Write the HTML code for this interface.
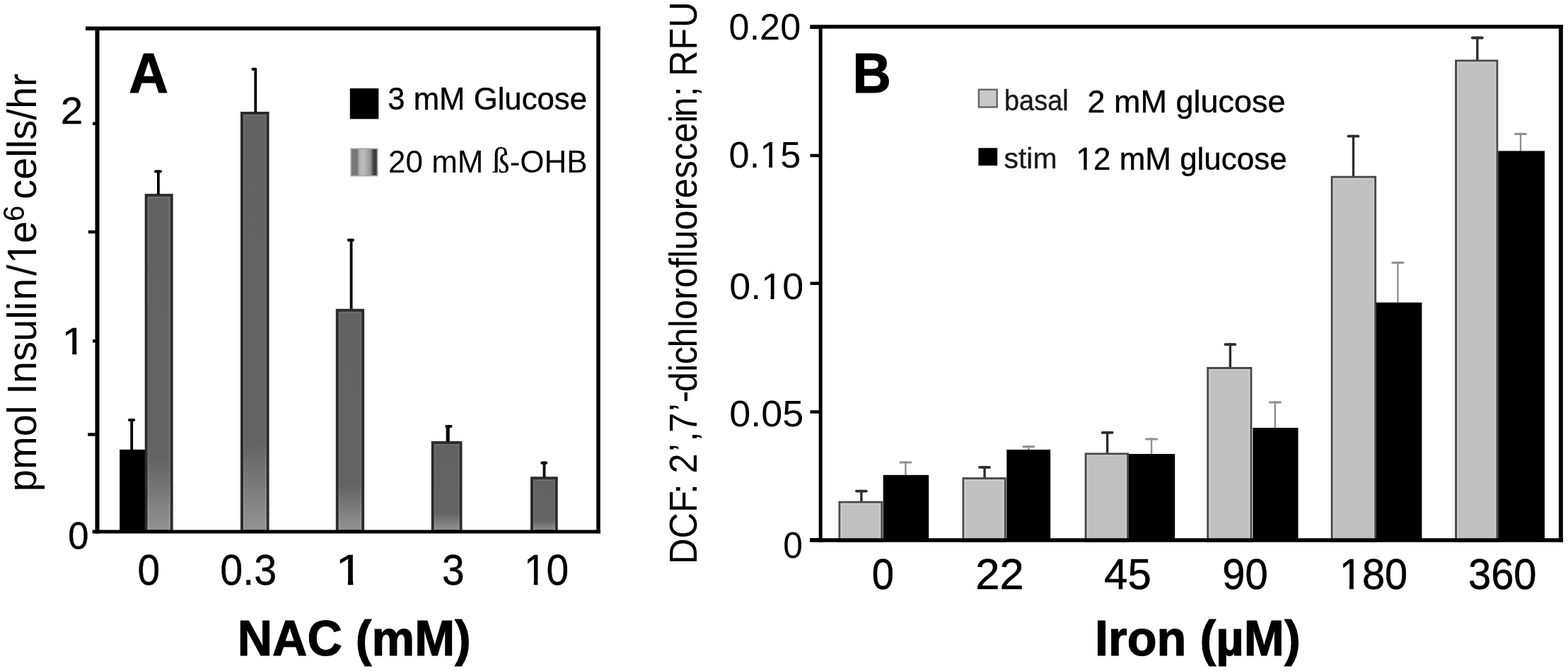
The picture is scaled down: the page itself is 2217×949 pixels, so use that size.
<!DOCTYPE html><html><head><meta charset="utf-8"><style>html,body{margin:0;padding:0;background:#fff;overflow:hidden}svg{display:block}text{font-family:"Liberation Sans", Arial, sans-serif}</style></head><body>
<div id="w"><svg width="2217" height="949" viewBox="0 0 2217 949">
<defs>
<linearGradient id="stripe" x1="0" y1="0" x2="1" y2="0">
<stop offset="0" stop-color="#7c7c7c"/><stop offset="0.22" stop-color="#747474"/><stop offset="0.33" stop-color="#b2b2b2"/><stop offset="0.45" stop-color="#bdbdbd"/><stop offset="0.6" stop-color="#ababab"/><stop offset="0.74" stop-color="#929292"/><stop offset="0.85" stop-color="#424242"/><stop offset="0.94" stop-color="#3a3a3a"/><stop offset="1" stop-color="#6a6a6a"/></linearGradient>
<linearGradient id="gbar" x1="0" y1="0" x2="0" y2="1"><stop offset="0" stop-color="#626262"/><stop offset="0.79" stop-color="#636363"/><stop offset="1" stop-color="#939393"/></linearGradient>
<linearGradient id="gstr" x1="0" y1="0" x2="0" y2="1"><stop offset="0" stop-color="#6e6e6e"/><stop offset="0.79" stop-color="#6e6e6e"/><stop offset="1" stop-color="#a2a2a2"/></linearGradient>
</defs>
<rect width="2217" height="949" fill="#fff"/>
<rect x="169.2" y="635.8" width="35.80000000000001" height="115.70000000000005" fill="#000"/>
<line x1="186.2" y1="594" x2="186.2" y2="636" stroke="#000" stroke-width="3.8" stroke-linecap="butt"/>
<line x1="183.0" y1="594" x2="189.1" y2="594" stroke="#000" stroke-width="4.2" stroke-linecap="round"/>
<rect x="206.7" y="276.1" width="36.0" height="475.4" fill="url(#gbar)" stroke="#2c2c2c" stroke-width="4"/>
<rect x="209.7" y="279.1" width="30.0" height="472.4" fill="none" stroke="url(#gstr)" stroke-width="2"/>
<line x1="223.9" y1="242.5" x2="223.9" y2="275" stroke="#000" stroke-width="3.8" stroke-linecap="butt"/>
<line x1="220.1" y1="242.5" x2="226.9" y2="242.5" stroke="#000" stroke-width="4.2" stroke-linecap="round"/>
<rect x="342" y="160" width="36.60000000000002" height="591.5" fill="url(#gbar)" stroke="#2c2c2c" stroke-width="4"/>
<rect x="345" y="163" width="30.600000000000023" height="588.5" fill="none" stroke="url(#gstr)" stroke-width="2"/>
<line x1="361.3" y1="97.8" x2="361.3" y2="159" stroke="#000" stroke-width="3.8" stroke-linecap="butt"/>
<line x1="357.6" y1="97.8" x2="361.09999999999997" y2="97.8" stroke="#000" stroke-width="4.2" stroke-linecap="round"/>
<rect x="476.8" y="438.8" width="36.30000000000001" height="312.7" fill="url(#gbar)" stroke="#2c2c2c" stroke-width="4"/>
<rect x="479.8" y="441.8" width="30.30000000000001" height="309.7" fill="none" stroke="url(#gstr)" stroke-width="2"/>
<line x1="496.6" y1="339.6" x2="496.6" y2="437" stroke="#000" stroke-width="3.8" stroke-linecap="butt"/>
<line x1="493.0" y1="339.6" x2="498.9" y2="339.6" stroke="#000" stroke-width="4.2" stroke-linecap="round"/>
<rect x="611.8" y="626" width="39.700000000000045" height="125.5" fill="url(#gbar)" stroke="#2c2c2c" stroke-width="4"/>
<rect x="614.8" y="629" width="33.700000000000045" height="122.5" fill="none" stroke="url(#gstr)" stroke-width="2"/>
<line x1="633.2" y1="603" x2="633.2" y2="625" stroke="#000" stroke-width="5" stroke-linecap="butt"/>
<line x1="631.3000000000001" y1="603" x2="637.4" y2="603" stroke="#000" stroke-width="4.2" stroke-linecap="round"/>
<rect x="752" y="676.2" width="34.700000000000045" height="75.29999999999995" fill="url(#gbar)" stroke="#2c2c2c" stroke-width="4"/>
<rect x="755" y="679.2" width="28.700000000000045" height="72.29999999999995" fill="none" stroke="url(#gstr)" stroke-width="2"/>
<line x1="769.5" y1="654.7" x2="769.5" y2="675" stroke="#000" stroke-width="3.8" stroke-linecap="butt"/>
<line x1="766.4" y1="654.7" x2="772.1" y2="654.7" stroke="#000" stroke-width="4.2" stroke-linecap="round"/>
<line x1="121" y1="40.3" x2="848.6" y2="40.3" stroke="#000" stroke-width="5.5" stroke-linecap="butt"/>
<line x1="137.5" y1="40" x2="137.5" y2="754.5" stroke="#000" stroke-width="6" stroke-linecap="butt"/>
<line x1="130.6" y1="752" x2="848.9" y2="752" stroke="#000" stroke-width="5" stroke-linecap="butt"/>
<line x1="846" y1="37.5" x2="846" y2="754.3" stroke="#000" stroke-width="5.5" stroke-linecap="butt"/>
<line x1="131" y1="174.8" x2="137" y2="174.8" stroke="#000" stroke-width="4.5" stroke-linecap="butt"/>
<line x1="124.8" y1="328" x2="137" y2="328" stroke="#000" stroke-width="4.5" stroke-linecap="butt"/>
<line x1="131" y1="482.3" x2="137" y2="482.3" stroke="#000" stroke-width="4.5" stroke-linecap="butt"/>
<line x1="124.3" y1="614.5" x2="137" y2="614.5" stroke="#000" stroke-width="4.5" stroke-linecap="butt"/>
<g transform="translate(85.68,174.50) scale(1.0589,1)"><text font-size="53.5" fill="#000" stroke="#000" stroke-width="0.4" stroke-linejoin="round">2</text></g>
<g transform="translate(87.51,500.60) scale(1.1253,1)"><text font-size="53.5" fill="#000" stroke="#000" stroke-width="0.4" stroke-linejoin="round">1</text><rect x="2.01" y="-5.37" width="11.06" height="7.17" fill="#fff"/><rect x="18.50" y="-5.37" width="10.52" height="7.17" fill="#fff"/></g>
<g transform="translate(96.30,776.20) scale(0.9816,1)"><text font-size="53.5" fill="#000" stroke="#000" stroke-width="0.4" stroke-linejoin="round">0</text></g>
<g transform="translate(194.51,826.70) scale(0.9258,1)"><text font-size="61.5" fill="#000" stroke="#000" stroke-width="0.4" stroke-linejoin="round">0</text></g>
<g transform="translate(311.28,826.70) scale(0.9362,1)"><text font-size="61.5" fill="#000" stroke="#000" stroke-width="0.4" stroke-linejoin="round">0.3</text></g>
<g transform="translate(474.12,826.70) scale(1.1831,1)"><text font-size="61.5" fill="#000" stroke="#000" stroke-width="0.4" stroke-linejoin="round">1</text><rect x="2.49" y="-6.00" width="12.56" height="7.80" fill="#fff"/><rect x="21.23" y="-6.00" width="11.95" height="7.80" fill="#fff"/></g>
<g transform="translate(624.91,826.70) scale(0.9253,1)"><text font-size="61.5" fill="#000" stroke="#000" stroke-width="0.4" stroke-linejoin="round">3</text></g>
<g transform="translate(740.77,826.70) scale(0.9263,1)"><text font-size="61.5" fill="#000" stroke="#000" stroke-width="0.4" stroke-linejoin="round">10</text><rect x="2.49" y="-6.00" width="12.56" height="7.80" fill="#fff"/><rect x="21.23" y="-6.00" width="11.95" height="7.80" fill="#fff"/></g>
<g transform="translate(335.75,927.40) scale(0.9759,1)"><text font-size="70" font-weight="bold" fill="#000" stroke="#000" stroke-width="1.2" stroke-linejoin="round">NAC (mM)</text></g>
<g transform="translate(182.15,130.50) scale(0.9635,1)"><text font-size="80" font-weight="bold" fill="#000" stroke="#000" stroke-width="1.2" stroke-linejoin="round">A</text></g>
<rect x="494.8" y="125" width="40.5" height="43.3" fill="#000"/>
<rect x="496.2" y="210.3" width="37.5" height="38.4" fill="url(#stripe)" stroke="#a4a4a4" stroke-width="1.6"/>
<g transform="translate(548.25,155.30) scale(0.9934,1)"><text font-size="44" fill="#000" stroke="#000" stroke-width="0.4" stroke-linejoin="round">3 mM Glucose</text></g>
<text x="549" y="244" font-size="44">20 mM <tspan font-family="\"Liberation Serif\", \"Times New Roman\", serif" font-size="50">ß</tspan>-OHB</text>
<g transform="translate(51.3,695.2) rotate(-90) scale(1.003,1.04)"><text font-size="56">pmol Insuli<tspan dx="1.9">n</tspan><tspan dx="3.5">/</tspan><tspan dx="1.6">1</tspan><tspan dx="-2.3">e</tspan><tspan font-size="40" dx="-0.2" dy="-17">6</tspan><tspan dx="-7" dy="17"> cells/hr</tspan></text><g transform="translate(7,0)"><rect x="316.74" y="-5.37" width="11.53" height="7.17" fill="#fff"/><rect x="333.53" y="-5.37" width="10.97" height="7.17" fill="#fff"/></g></g>
<line x1="1217.9" y1="692.8" x2="1217.9" y2="709.7" stroke="#2e2e2e" stroke-width="3.4" stroke-linecap="butt"/>
<line x1="1210.9" y1="694.5999999999999" x2="1224.9" y2="694.5999999999999" stroke="#2e2e2e" stroke-width="3.8" stroke-linecap="round"/>
<rect x="1187.0" y="710.2" width="59.700000000000045" height="55.299999999999955" fill="#c0c0c0" stroke="#4a4a4a" stroke-width="3"/>
<rect x="1189.5" y="712.7" width="54.700000000000045" height="51.299999999999955" fill="none" stroke="#cdcdcd" stroke-width="2"/>
<line x1="1280.4" y1="652.3" x2="1280.4" y2="672.8" stroke="#8f8f8f" stroke-width="2.4" stroke-linecap="butt"/>
<line x1="1272.9" y1="654.0999999999999" x2="1287.9" y2="654.0999999999999" stroke="#8f8f8f" stroke-width="3" stroke-linecap="round"/>
<rect x="1248.7" y="671.8" width="64.5" height="92.20000000000005" fill="#000"/>
<line x1="1392.1" y1="659.1" x2="1392.1" y2="676.1" stroke="#2e2e2e" stroke-width="3.4" stroke-linecap="butt"/>
<line x1="1385.1" y1="660.9" x2="1399.1" y2="660.9" stroke="#2e2e2e" stroke-width="3.8" stroke-linecap="round"/>
<rect x="1362.0" y="676.6" width="59.200000000000045" height="88.89999999999998" fill="#c0c0c0" stroke="#4a4a4a" stroke-width="3"/>
<rect x="1364.5" y="679.1" width="54.200000000000045" height="84.89999999999998" fill="none" stroke="#cdcdcd" stroke-width="2"/>
<line x1="1454.4" y1="630.0" x2="1454.4" y2="636.9" stroke="#8f8f8f" stroke-width="2.4" stroke-linecap="butt"/>
<line x1="1446.9" y1="631.8" x2="1461.9" y2="631.8" stroke="#8f8f8f" stroke-width="3" stroke-linecap="round"/>
<rect x="1423.3" y="635.9" width="61.90000000000009" height="128.10000000000002" fill="#000"/>
<line x1="1565.7" y1="610.0" x2="1565.7" y2="641.4" stroke="#2e2e2e" stroke-width="3.4" stroke-linecap="butt"/>
<line x1="1558.7" y1="611.8" x2="1572.7" y2="611.8" stroke="#2e2e2e" stroke-width="3.8" stroke-linecap="round"/>
<rect x="1535.2" y="641.9" width="59.399999999999864" height="123.60000000000002" fill="#c0c0c0" stroke="#4a4a4a" stroke-width="3"/>
<rect x="1537.7" y="644.4" width="54.399999999999864" height="119.60000000000002" fill="none" stroke="#cdcdcd" stroke-width="2"/>
<line x1="1628.1" y1="619.1" x2="1628.1" y2="643.0" stroke="#8f8f8f" stroke-width="2.4" stroke-linecap="butt"/>
<line x1="1620.6" y1="620.9" x2="1635.6" y2="620.9" stroke="#8f8f8f" stroke-width="3" stroke-linecap="round"/>
<rect x="1596.0" y="642.0" width="65.20000000000005" height="122.0" fill="#000"/>
<line x1="1739.4" y1="485.3" x2="1739.4" y2="520.0" stroke="#2e2e2e" stroke-width="3.4" stroke-linecap="butt"/>
<line x1="1732.4" y1="487.1" x2="1746.4" y2="487.1" stroke="#2e2e2e" stroke-width="3.8" stroke-linecap="round"/>
<rect x="1707.8" y="520.5" width="61.100000000000136" height="245.0" fill="#c0c0c0" stroke="#4a4a4a" stroke-width="3"/>
<rect x="1710.3" y="523.0" width="56.100000000000136" height="241.0" fill="none" stroke="#cdcdcd" stroke-width="2"/>
<line x1="1802.8" y1="567.2" x2="1802.8" y2="606.0" stroke="#8f8f8f" stroke-width="2.4" stroke-linecap="butt"/>
<line x1="1795.3" y1="569.0" x2="1810.3" y2="569.0" stroke="#8f8f8f" stroke-width="3" stroke-linecap="round"/>
<rect x="1771.4" y="605.0" width="64.09999999999991" height="159.0" fill="#000"/>
<line x1="1913.5" y1="190.9" x2="1913.5" y2="249.8" stroke="#2e2e2e" stroke-width="3.4" stroke-linecap="butt"/>
<line x1="1906.5" y1="192.70000000000002" x2="1920.5" y2="192.70000000000002" stroke="#2e2e2e" stroke-width="3.8" stroke-linecap="round"/>
<rect x="1883.2" y="250.3" width="61.399999999999864" height="515.2" fill="#c0c0c0" stroke="#4a4a4a" stroke-width="3"/>
<rect x="1885.7" y="252.8" width="56.399999999999864" height="511.20000000000005" fill="none" stroke="#cdcdcd" stroke-width="2"/>
<line x1="1976.4" y1="369.8" x2="1976.4" y2="428.8" stroke="#8f8f8f" stroke-width="2.4" stroke-linecap="butt"/>
<line x1="1968.9" y1="371.6" x2="1983.9" y2="371.6" stroke="#8f8f8f" stroke-width="3" stroke-linecap="round"/>
<rect x="1946.0" y="427.8" width="64.40000000000009" height="336.2" fill="#000"/>
<line x1="2088.8" y1="51.7" x2="2088.8" y2="85.4" stroke="#2e2e2e" stroke-width="3.4" stroke-linecap="butt"/>
<line x1="2081.8" y1="53.5" x2="2095.8" y2="53.5" stroke="#2e2e2e" stroke-width="3.8" stroke-linecap="round"/>
<rect x="2058.6" y="85.9" width="58.20000000000027" height="679.6" fill="#c0c0c0" stroke="#4a4a4a" stroke-width="3"/>
<rect x="2061.1" y="88.4" width="53.20000000000027" height="675.6" fill="none" stroke="#cdcdcd" stroke-width="2"/>
<line x1="2150.0" y1="187.7" x2="2150.0" y2="214.5" stroke="#8f8f8f" stroke-width="2.4" stroke-linecap="butt"/>
<line x1="2142.5" y1="189.5" x2="2157.5" y2="189.5" stroke="#8f8f8f" stroke-width="3" stroke-linecap="round"/>
<rect x="2118.3" y="213.5" width="65.69999999999982" height="550.5" fill="#000"/>
<line x1="1145.5" y1="37.8" x2="2209.8" y2="37.8" stroke="#000" stroke-width="5.5" stroke-linecap="butt"/>
<line x1="1160.2" y1="35" x2="1160.2" y2="767" stroke="#000" stroke-width="5" stroke-linecap="butt"/>
<line x1="1145" y1="764" x2="2209.8" y2="764" stroke="#000" stroke-width="5.7" stroke-linecap="butt"/>
<line x1="2206.9" y1="35" x2="2206.9" y2="767" stroke="#000" stroke-width="5.9" stroke-linecap="butt"/>
<line x1="1145.5" y1="38.6" x2="1160" y2="38.6" stroke="#000" stroke-width="4.5" stroke-linecap="butt"/>
<line x1="1145.5" y1="220" x2="1160" y2="220" stroke="#000" stroke-width="4.5" stroke-linecap="butt"/>
<line x1="1145.5" y1="400.8" x2="1160" y2="400.8" stroke="#000" stroke-width="4.5" stroke-linecap="butt"/>
<line x1="1145.5" y1="582.5" x2="1160" y2="582.5" stroke="#000" stroke-width="4.5" stroke-linecap="butt"/>
<line x1="1145.5" y1="763.3" x2="1160" y2="763.3" stroke="#000" stroke-width="4.5" stroke-linecap="butt"/>
<g transform="translate(1030.61,56.30) scale(0.9941,1)"><text font-size="52.5" fill="#000">0.20</text></g>
<g transform="translate(1030.61,237.30) scale(0.9968,1)"><text font-size="52.5" fill="#000">0.15</text><rect x="45.93" y="-5.09" width="10.87" height="6.89" fill="#fff"/><rect x="61.74" y="-5.09" width="10.34" height="6.89" fill="#fff"/></g>
<g transform="translate(1031.14,422.60) scale(1.0278,1)"><text font-size="52.5" fill="#000">0.10</text><rect x="45.93" y="-5.09" width="10.87" height="6.89" fill="#fff"/><rect x="61.74" y="-5.09" width="10.34" height="6.89" fill="#fff"/></g>
<g transform="translate(1031.14,603.40) scale(1.0305,1)"><text font-size="52.5" fill="#000">0.05</text></g>
<g transform="translate(1107.31,788.80) scale(0.9484,1)"><text font-size="52.5" fill="#000">0</text></g>
<g transform="translate(1232.83,833.30) scale(0.9087,1)"><text font-size="61.8" fill="#000" stroke="#000" stroke-width="0.6" stroke-linejoin="round">0</text></g>
<g transform="translate(1379.22,833.30) scale(0.9950,1)"><text font-size="61.8" fill="#000" stroke="#000" stroke-width="0.6" stroke-linejoin="round">22</text></g>
<g transform="translate(1561.29,833.30) scale(0.9696,1)"><text font-size="61.8" fill="#000" stroke="#000" stroke-width="0.6" stroke-linejoin="round">45</text></g>
<g transform="translate(1728.28,833.30) scale(0.9369,1)"><text font-size="61.8" fill="#000" stroke="#000" stroke-width="0.6" stroke-linejoin="round">90</text></g>
<g transform="translate(1893.79,833.30) scale(0.9344,1)"><text font-size="61.8" fill="#000" stroke="#000" stroke-width="0.6" stroke-linejoin="round">180</text><rect x="2.41" y="-6.12" width="12.62" height="7.92" fill="#fff"/><rect x="21.44" y="-6.12" width="12.00" height="7.92" fill="#fff"/></g>
<g transform="translate(2075.97,833.30) scale(0.9367,1)"><text font-size="61.8" fill="#000" stroke="#000" stroke-width="0.6" stroke-linejoin="round">360</text></g>
<g transform="translate(1548.03,926.90) scale(0.9793,1)"><text font-size="70" font-weight="bold" fill="#000" stroke="#000" stroke-width="1.2" stroke-linejoin="round">Iron (µM)</text></g>
<g transform="translate(1205.38,130.50) scale(0.9400,1)"><text font-size="80" font-weight="bold" fill="#000" stroke="#000" stroke-width="1.2" stroke-linejoin="round">B</text></g>
<rect x="1383.9" y="126.7" width="25.8" height="24.8" fill="#c8c8c8" stroke="#666" stroke-width="2.4"/>
<rect x="1383.4" y="209.3" width="26.8" height="24.9" fill="#000"/>
<g transform="translate(1420.02,156.20) scale(0.9482,1)"><text font-size="40" fill="#1a1a1a" stroke="#1a1a1a" stroke-width="0.4" stroke-linejoin="round">basal</text></g>
<g transform="translate(1419.48,238.20) scale(1.0229,1)"><text font-size="40" fill="#1a1a1a" stroke="#1a1a1a" stroke-width="0.4" stroke-linejoin="round">stim</text></g>
<g transform="translate(1537.55,158.50) scale(0.9998,1)"><text font-size="45" fill="#000" stroke="#000" stroke-width="0.4" stroke-linejoin="round">2 mM glucose</text></g>
<g transform="translate(1521.52,240.00) scale(0.9776,1)"><text font-size="45" fill="#000" stroke="#000" stroke-width="0.4" stroke-linejoin="round">12 mM glucose</text><rect x="1.50" y="-4.71" width="9.46" height="6.51" fill="#fff"/><rect x="15.59" y="-4.71" width="9.01" height="6.51" fill="#fff"/></g>
<text transform="translate(985.0,798) rotate(-90) scale(0.9826,1.07)" font-size="51.5">DCF<tspan dx="-4.5">:</tspan> <tspan dx="0.8">2</tspan><tspan dx="2.7">’</tspan><tspan dx="3.0">,</tspan><tspan dx="-1.25">7</tspan><tspan dx="1.75">’</tspan><tspan dx="1.2">-</tspan><tspan dx="-1.85">d</tspan><tspan dx="0.35">i</tspan><tspan dx="-0.7">c</tspan><tspan dx="-1.5">h</tspan>lorofluorescei<tspan dx="-3">n</tspan><tspan dx="0.75">;</tspan> <tspan dx="0.35">R</tspan><tspan dx="0.7">F</tspan><tspan dx="0.85">U</tspan></text>
</svg></div></body></html>
